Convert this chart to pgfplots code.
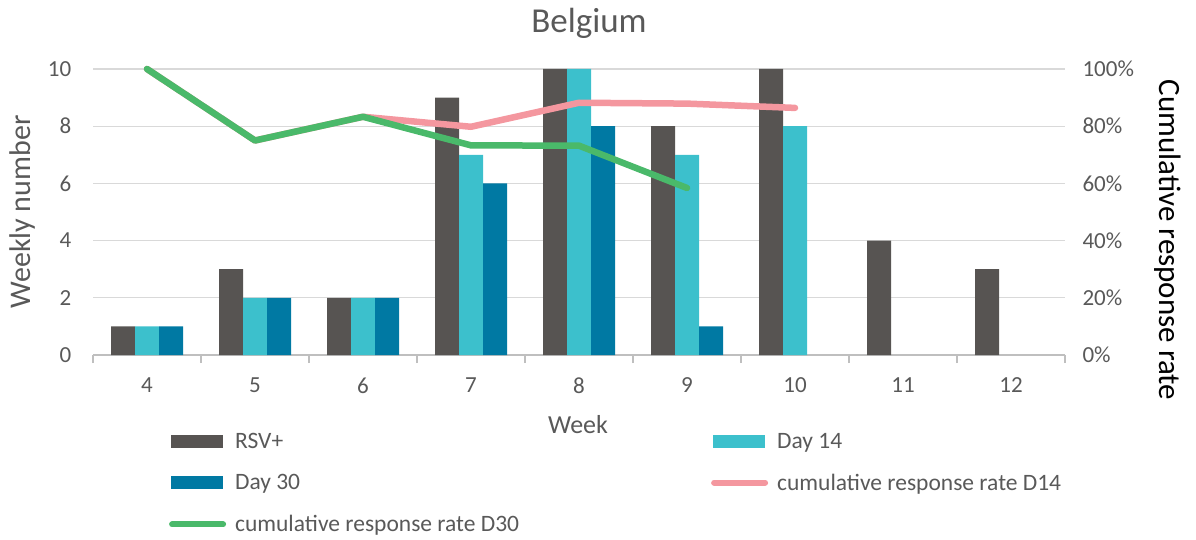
\documentclass[border=0pt]{standalone}
\usepackage{pgfplots}
\pgfplotsset{compat=1.18}
\usepackage{fontspec}
\setmainfont{Carlito}

\definecolor{rsv}{HTML}{575452}
\definecolor{dfourteen}{HTML}{3CC0CC}
\definecolor{dthirty}{HTML}{0079A3}
\definecolor{pinkline}{HTML}{F4979F}
\definecolor{greenline}{HTML}{4AB96A}
\definecolor{txt}{HTML}{595959}
\definecolor{gridgray}{HTML}{D9D9D9}
\definecolor{axisgray}{HTML}{BFBFBF}

\pgfplotsset{
  base/.style={
    at={(93pt,184pt)}, anchor=south west,
    scale only axis, width=972pt, height=286pt,
    xmin=3.5, xmax=12.5,
    tick label style={font=\fontsize{23}{27}\selectfont, text=txt},
  },
  barleg/.style={legend image code/.code={\fill[##1] (2pt,-6.5pt) rectangle (54pt,6.5pt);}},
  lineleg/.style={legend image code/.code={\draw[##1, line width=6pt, line cap=round] (3pt,0pt) -- (54pt,0pt);}},
}

\begin{document}
\begin{tikzpicture}
\useasboundingbox (0,0) rectangle (1196pt,539pt);

% weekly counts (left axis); weeks with no cases are left out
\begin{axis}[
  base,
  ymin=0, ymax=10,
  ybar=0pt, bar width=24pt,
  xtick={4,...,12}, xticklabels={4,5,6,7,8,9,10,11,12},
  minor xtick={3.5,4.5,...,12.5},
  major x tick style={draw=none},
  minor x tick style={axisgray, line width=1.3pt},
  tick align=outside, minor tick length=8pt,
  ytick={0,2,...,10}, yticklabels={0,2,4,6,8,10},
  major y tick style={draw=none},
  ymajorgrids, grid style={gridgray, line width=1.3pt},
  axis x line*=bottom, axis y line*=left,
  x axis line style={axisgray, line width=1.3pt, -},
  y axis line style={draw=none},
  xticklabel style={yshift=-15pt},
  yticklabel style={xshift=-14pt},
]
\addplot[fill=rsv, draw=none] coordinates {(4,1) (5,3) (6,2) (7,9) (8,10) (9,8) (10,10) (11,4) (12,3)};
\addplot[fill=dfourteen, draw=none] coordinates {(4,1) (5,2) (6,2) (7,7) (8,10) (9,7) (10,8)};
\addplot[fill=dthirty, draw=none] coordinates {(4,1) (5,2) (6,2) (7,6) (8,8) (9,1)};
\end{axis}

% cumulative response rates (right axis)
\begin{axis}[
  base,
  ymin=0, ymax=1,
  axis x line=none, axis y line*=right,
  y axis line style={draw=none},
  ytick={0,0.2,0.4,0.6,0.8,1}, yticklabels={0\%,20\%,40\%,60\%,80\%,100\%},
  major y tick style={draw=none},
  yticklabel style={xshift=14pt},
  clip=false,
  legend columns=2,
  legend cell align=left,
  legend style={
    at={(axis description cs:0.075,-0.265)}, anchor=north west,
    draw=none, fill=none,
    font=\fontsize{23.5}{28}\selectfont, text=txt,
    row sep=24pt,
    nodes={inner sep=0pt},
    /tikz/every odd column/.append style={column sep=9pt},
    /tikz/every even column/.append style={column sep=192pt},
  },
]
\addlegendimage{barleg, fill=rsv, draw=none}
\addlegendentry{RSV+}
\addlegendimage{barleg, fill=dfourteen, draw=none}
\addlegendentry{Day 14}
\addlegendimage{barleg, fill=dthirty, draw=none}
\addlegendentry{Day 30}
\addplot[lineleg, pinkline, line width=6.5pt, line cap=round, line join=round]
  coordinates {(4,1.0) (5,0.75) (6,0.833) (7,0.798) (8,0.882) (9,0.879) (10,0.864)};
\addlegendentry{cumulative response rate D14}
\addplot[lineleg, greenline, line width=6.5pt, line cap=round, line join=round]
  coordinates {(4,1.0) (5,0.75) (6,0.833) (7,0.733) (8,0.732) (9,0.584)};
\addlegendentry{cumulative response rate D30}
\end{axis}

\node[text=txt, font=\fontsize{35}{40}\selectfont] at (589pt,516pt) {Belgium};
\node[text=txt, font=\fontsize{30}{34}\selectfont, rotate=90] at (23pt,327pt) {Weekly number};
\node[text=txt, font=\fontsize{26}{30}\selectfont] at (578pt,114pt) {Week};
\node[text=black, font=\fontsize{31}{35}\selectfont, rotate=-90] at (1168pt,299pt) {Cumulative response rate};
\end{tikzpicture}
\end{document}
